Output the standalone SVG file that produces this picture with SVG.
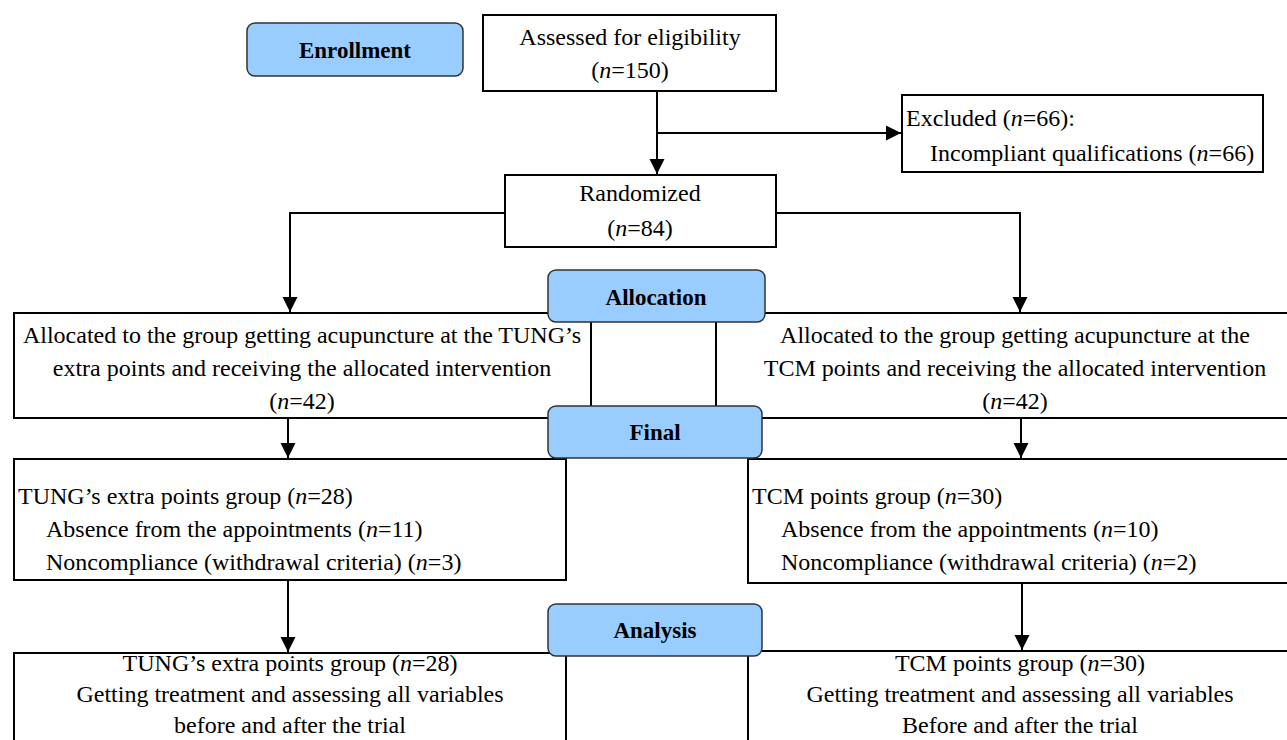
<svg xmlns="http://www.w3.org/2000/svg" width="1287" height="740" viewBox="0 0 1287 740" font-family="'Liberation Serif', 'Times New Roman', 'DejaVu Serif', serif">
<defs>
<style>
.box{fill:#fff;stroke:#000;stroke-width:2}
.lbl{fill:#99ccff;stroke:#333;stroke-width:1.5}
text{font-family:'Liberation Serif','Times New Roman','DejaVu Serif',serif}
.t{font-size:24px;fill:#000}
.b{font-size:23px;font-weight:bold;fill:#000;text-anchor:middle}
.c{text-anchor:middle}
.ln{fill:none;stroke:#000;stroke-width:2}
</style>
<marker id="ah" markerWidth="16" markerHeight="16" refX="15" refY="7.5" orient="auto" markerUnits="userSpaceOnUse">
<path d="M0,0 L15,7.5 L0,15 Z" fill="#000"/>
</marker>
</defs>
<rect width="1287" height="740" fill="#fff"/>
<g id="connectors">
<path class="ln" d="M657,91 V174" marker-end="url(#ah)"/>
<path class="ln" d="M657,133 H901" marker-end="url(#ah)"/>
<path class="ln" d="M505,213 H290 V312" marker-end="url(#ah)"/>
<path class="ln" d="M776,213 H1020 V312" marker-end="url(#ah)"/>
<path class="ln" d="M288,418 V458" marker-end="url(#ah)"/>
<path class="ln" d="M1021,418 V458" marker-end="url(#ah)"/>
<path class="ln" d="M288,580 V652" marker-end="url(#ah)"/>
<path class="ln" d="M1022,583 V650" marker-end="url(#ah)"/>
</g>
<g id="enrollment">
<rect class="lbl" x="247" y="23" width="216" height="53" rx="8"/>
<text class="b" x="355" y="58">Enrollment</text>
</g>
<g id="assessed">
<rect class="box" x="483" y="15" width="293" height="76"/>
<text class="t c" x="630" y="45">Assessed for eligibility</text>
<text class="t c" x="630" y="78">(<tspan font-style="italic">n</tspan>=150)</text>
</g>
<g id="excluded">
<rect class="box" x="902" y="95" width="361" height="77"/>
<text class="t" x="906" y="126">Excluded (<tspan font-style="italic">n</tspan>=66):</text>
<text class="t" x="930" y="161">Incompliant qualifications (<tspan font-style="italic">n</tspan>=66)</text>
</g>
<g id="randomized">
<rect class="box" x="505" y="175" width="271" height="72"/>
<text class="t c" x="640" y="201">Randomized</text>
<text class="t c" x="640" y="236">(<tspan font-style="italic">n</tspan>=84)</text>
</g>
<g id="alloc-left">
<rect class="box" x="14" y="313" width="577" height="105"/>
<text class="t c" x="302" y="343">Allocated to the group getting acupuncture at the TUNG’s</text>
<text class="t c" x="302" y="376">extra points and receiving the allocated intervention</text>
<text class="t c" x="302" y="409">(<tspan font-style="italic">n</tspan>=42)</text>
</g>
<g id="alloc-right">
<rect class="box" x="716" y="313" width="590" height="105"/>
<text class="t c" x="1015" y="343">Allocated to the group getting acupuncture at the</text>
<text class="t c" x="1015" y="376">TCM points and receiving the allocated intervention</text>
<text class="t c" x="1015" y="409">(<tspan font-style="italic">n</tspan>=42)</text>
</g>
<g id="allocation">
<rect class="lbl" x="548" y="270" width="217" height="52" rx="8"/>
<text class="b" x="656" y="305">Allocation</text>
</g>
<g id="final-left">
<rect class="box" x="14" y="459" width="552" height="121"/>
<text class="t" x="18" y="504">TUNG’s extra points group (<tspan font-style="italic">n</tspan>=28)</text>
<text class="t" x="46" y="537">Absence from the appointments (<tspan font-style="italic">n</tspan>=11)</text>
<text class="t" x="46" y="570">Noncompliance (withdrawal criteria) (<tspan font-style="italic">n</tspan>=3)</text>
</g>
<g id="final-right">
<rect class="box" x="748" y="459" width="560" height="124"/>
<text class="t" x="752" y="504">TCM points group (<tspan font-style="italic">n</tspan>=30)</text>
<text class="t" x="781" y="537">Absence from the appointments (<tspan font-style="italic">n</tspan>=10)</text>
<text class="t" x="781" y="570">Noncompliance (withdrawal criteria) (<tspan font-style="italic">n</tspan>=2)</text>
</g>
<g id="final">
<rect class="lbl" x="548" y="406" width="214" height="52" rx="8"/>
<text class="b" x="655" y="440">Final</text>
</g>
<g id="analysis-left">
<rect class="box" x="14" y="653" width="552" height="110"/>
<text class="t c" x="290" y="671">TUNG’s extra points group (<tspan font-style="italic">n</tspan>=28)</text>
<text class="t c" x="290" y="702">Getting treatment and assessing all variables</text>
<text class="t c" x="290" y="733">before and after the trial</text>
</g>
<g id="analysis-right">
<rect class="box" x="748" y="651" width="560" height="110"/>
<text class="t c" x="1020" y="671">TCM points group (<tspan font-style="italic">n</tspan>=30)</text>
<text class="t c" x="1020" y="702">Getting treatment and assessing all variables</text>
<text class="t c" x="1020" y="733">Before and after the trial</text>
</g>
<g id="analysis">
<rect class="lbl" x="548" y="604" width="214" height="52" rx="8"/>
<text class="b" x="655" y="638">Analysis</text>
</g>
</svg>
